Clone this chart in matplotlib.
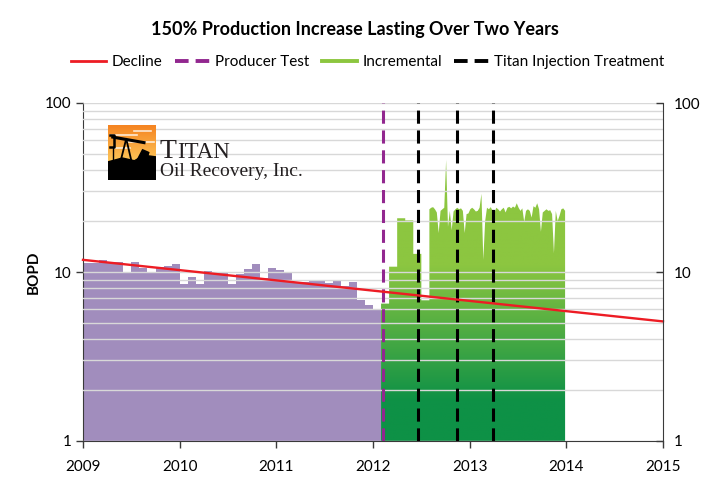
"""Titan Oil Recovery production chart: decline vs incremental (log BOPD)."""

import numpy as np
import matplotlib.pyplot as plt
from matplotlib.lines import Line2D
from matplotlib.patches import Polygon
from matplotlib.ticker import FixedLocator, FormatStrFormatter, NullFormatter, LogLocator

plt.rcParams['font.family'] = ['Lato', 'DejaVu Sans']

# monthly production before the test, Jan 2009 - Jan 2012 (BOPD)
pre_start = 2009.0
pre_bopd = [11.3, 11.3, 11.7, 11.4, 11.4, 10.0, 11.4, 10.5, 10.0, 10.75,
            10.9, 11.2, 8.45, 9.4, 8.45, 10.1, 9.85, 9.85, 8.45, 9.7,
            10.35, 11.2, 9.2, 10.5, 10.3, 9.95, 8.7, 8.7, 8.9, 8.9,
            8.65, 8.9, 8.25, 8.7, 6.85, 6.37, 6.0]

# monthly production after the producer test, Feb 2012 - Jul 2012
test_start = 2012 + 1 / 12
test_bopd = [6.5, 10.75, 20.8, 20.2, 12.8, 6.8]

# weekly production after the injection treatments
post_start = 2012 + 7 / 12
post_bopd = [23.5, 24.0, 24.2, 23.5, 22.5, 17.0, 23.0, 23.5, 24.0, 46.0,
             18.5, 23.0, 17.7, 22.8, 23.5, 24.0, 23.5, 23.8, 23.0, 17.0,
             22.0, 22.2, 23.5, 24.0, 23.5, 22.8, 23.0, 24.0, 29.0, 11.8,
             20.0, 24.0, 23.5, 24.2, 23.0, 22.5, 24.0, 23.5, 22.8, 23.5,
             24.0, 22.5, 24.0, 24.3, 23.8, 24.4, 24.0, 25.5, 24.0, 23.0,
             23.8, 19.8, 23.0, 23.5, 23.0, 21.0, 24.5, 24.0, 25.5, 23.5,
             17.3, 22.5, 23.0, 23.5, 23.0, 23.2, 22.0, 12.9, 23.0, 20.0,
             21.5, 23.5, 23.8, 23.0]

decline_years = [2009, 2015]
decline_bopd = [11.8, 5.1]

producer_test = 2012.10
treatments = [2012.47, 2012.87, 2013.24]

years = [2009, 2010, 2011, 2012, 2013, 2014, 2015]

PURPLE_FILL = "#a18dbd"
GREEN_LIGHT = np.array([140, 198, 64]) / 255
GREEN_DARK = np.array([14, 145, 70]) / 255
RED = "#ed1c24"
PURPLE = "#92278f"
SPINE = "#3a3a3a"

fig = plt.figure(figsize=(7.11, 4.78), dpi=100)
ax = fig.add_axes([83 / 711, 37 / 478, 580 / 711, 338 / 478])
ax.set_yscale("log")

# purple: pre-treatment monthly steps
pre_x = pre_start + np.arange(len(pre_bopd) + 1) / 12
ax.fill_between(pre_x, list(pre_bopd) + [pre_bopd[-1]], 1, step="post",
                color=PURPLE_FILL, lw=0, zorder=1)

# green: monthly steps after test, then weekly readings
gx, gy = [], []
for i, v in enumerate(test_bopd):
    gx += [test_start + i / 12, test_start + (i + 1) / 12]
    gy += [v, v]
gx += list(post_start + np.arange(len(post_bopd)) / 52)
gy += post_bopd
poly = ax.fill_between(gx, gy, 1, color="none", lw=0, zorder=1)

# vertical gradient, dark green at the bottom to light green near the top
frac = np.linspace(0, 1, 512)[:, None]
t = np.clip((frac - 0.12) / 0.40, 0, 1)
grad = GREEN_DARK * (1 - t) + GREEN_LIGHT * t
img = ax.imshow(grad[:, None, :].repeat(2, axis=1), origin="lower", aspect="auto",
                extent=[0, 1, 0, 1], transform=ax.transAxes, zorder=1.1)
img.set_clip_path(poly.get_paths()[0], ax.transData)

# decline + event lines
ax.plot(decline_years, decline_bopd, color=RED, lw=1.7, zorder=6, clip_on=False)
ax.axvline(producer_test, color=PURPLE, lw=2.2, ls=(0, (4.3, 2.2)), zorder=5)
for tx in treatments:
    ax.axvline(tx, color="black", lw=2.2, ls=(0, (4.3, 2.2)), zorder=5)

ax.set_xlim(2009, 2015)
ax.set_ylim(1, 100)
ax.set_axisbelow(False)
ax.yaxis.set_major_locator(FixedLocator([1, 10, 100]))
ax.yaxis.set_minor_locator(LogLocator(base=10, subs=np.arange(2, 10)))
ax.yaxis.set_major_formatter(FormatStrFormatter("%g"))
ax.yaxis.set_minor_formatter(NullFormatter())
ax.grid(axis="y", which="both", color="#d8d8d8", lw=1.0)
ax.set_xticks(years)
ax.set_xticklabels([str(y) for y in years])
ax.tick_params(axis="x", direction="out", length=5, width=1, color=SPINE,
               labelsize=11, pad=9)
ax.tick_params(axis="y", which="major", direction="out", length=5, width=1,
               color=SPINE, labelsize=11, pad=3)
ax.tick_params(axis="y", which="minor", length=0)
ax.set_ylabel("BOPD", fontsize=11, fontweight="bold", labelpad=3)
for s in ["left", "bottom"]:
    ax.spines[s].set_color(SPINE)
for s in ["top", "right"]:
    ax.spines[s].set_visible(False)

ax2 = ax.twinx()
ax2.set_yscale("log")
ax2.set_ylim(1, 100)
ax2.yaxis.set_major_locator(FixedLocator([1, 10, 100]))
ax2.yaxis.set_minor_locator(FixedLocator([]))
ax2.yaxis.set_major_formatter(FormatStrFormatter("%g"))
ax2.tick_params(axis="y", direction="in", length=5, width=1, color=SPINE,
                labelsize=11, pad=8)
ax2.spines["right"].set_color(SPINE)
for s in ["top", "left", "bottom"]:
    ax2.spines[s].set_visible(False)

fig.text(355 / 711, 1 - 30 / 478, "150% Production Increase Lasting Over Two Years",
         ha="center", va="center", fontsize=13, fontweight="bold")

handles = [
    Line2D([], [], color=RED, lw=2),
    Line2D([], [], color=PURPLE, lw=2.8, ls=(0, (3.5, 1.8))),
    Line2D([], [], color="#8cc63f", lw=2.8),
    Line2D([], [], color="black", lw=2.8, ls=(0, (3.5, 1.8))),
]
labels = ["Decline", "Producer Test", "Incremental", "Titan Injection Treatment"]
fig.legend(handles, labels, loc="center", bbox_to_anchor=(368 / 711, 1 - 62 / 478),
           ncol=4, frameon=False, fontsize=11, handlelength=2.3,
           handletextpad=0.35, columnspacing=0.8)

# company logo (drawn approximation)
lax = fig.add_axes([108 / 711, 1 - 180 / 478, 48 / 711, 55 / 478])
lax.set_xlim(0, 1)
lax.set_ylim(0, 1)
lax.axis("off")
sky = np.linspace(0, 1, 64)[:, None]
sky_rgb = (np.array([253, 200, 90]) / 255) * (1 - sky) + (np.array([245, 130, 32]) / 255) * sky
lax.imshow(sky_rgb[:, None, :].repeat(2, axis=1), origin="lower", aspect="auto",
           extent=[0, 1, 0.3, 1])
for cy, cx0, cx1 in [(0.82, 0.05, 0.6), (0.7, 0.4, 0.95), (0.58, 0.1, 0.45), (0.9, 0.55, 0.9)]:
    lax.plot([cx0, cx1], [cy, cy], color="white", lw=1.2, alpha=0.8)
lax.add_patch(Polygon([[0, 0], [1, 0], [1, 0.42], [0.75, 0.45], [0.55, 0.35],
                       [0.3, 0.4], [0, 0.33]], closed=True, color="black"))
lax.plot([0.1, 0.75], [0.78, 0.68], color="black", lw=2.2)
lax.plot([0.05, 0.12, 0.12, 0.05], [0.82, 0.82, 0.6, 0.6], color="black", lw=1.8)
lax.plot([0.25, 0.38, 0.5], [0.3, 0.75, 0.3], color="black", lw=1.3)
lax.plot([0.1, 0.1], [0.6, 0.3], color="black", lw=1.0)
lax.add_patch(Polygon([[0.6, 0.35], [0.72, 0.55], [0.85, 0.5], [0.8, 0.35]],
                      closed=True, color="black"))

fig.text(160 / 711, 1 - 158 / 478, "T", fontsize=20, family="Liberation Serif",
         color="#231f20", va="baseline")
fig.text(177 / 711, 1 - 158 / 478, "ITAN", fontsize=16.5, family="Liberation Serif",
         color="#231f20", va="baseline")
fig.text(160 / 711, 1 - 176 / 478, "Oil Recovery, Inc.", fontsize=14,
         family="Liberation Serif", color="#231f20", va="baseline")

fig.savefig("out.png", dpi=100)
